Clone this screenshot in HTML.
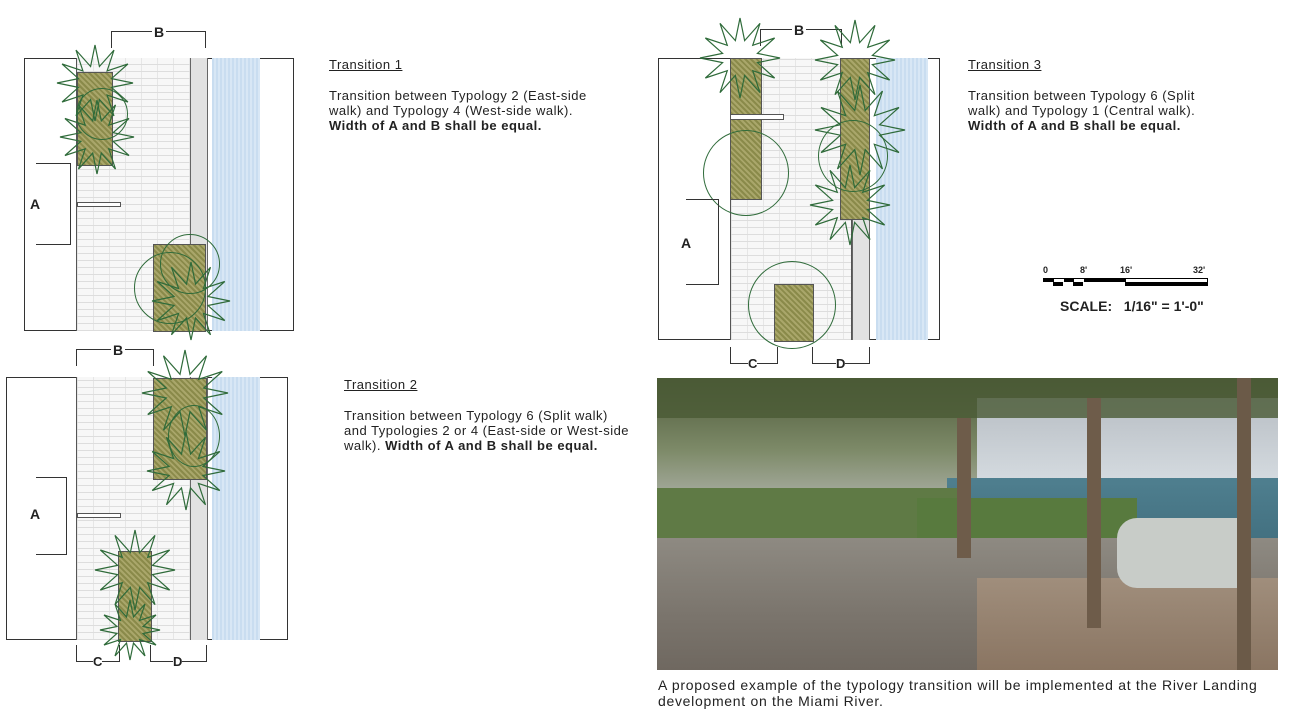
<!DOCTYPE html>
<html><head><meta charset="utf-8"><style>
body{margin:0;width:1289px;height:716px;background:#fff;position:relative;overflow:hidden;font-family:"Liberation Sans",sans-serif;color:#222}
.a{position:absolute}
.box{position:absolute;border:1px solid #333;box-sizing:border-box}
.brick{position:absolute;background-color:#f7f7f7;background-image:repeating-linear-gradient(0deg,#ddd 0 1px,transparent 1px 7px),repeating-linear-gradient(90deg,#e6e6e6 0 1px,transparent 1px 16px);border-left:1px solid #555;border-right:1px solid #555}
.strip{position:absolute;background:#e2e2e2;border-left:1px solid #666;border-right:1px solid #666}
.water{position:absolute;background:repeating-linear-gradient(90deg,#c9ddf0 0 2px,#d8e7f5 2px 4px)}
.tree{position:absolute;background:repeating-linear-gradient(45deg,#8a8a4a 0 2px,#a9a66a 2px 4px);border:1px solid #555}
.circ{position:absolute;border:1.5px solid #2f6b3a;border-radius:50%}
.t{position:absolute;font-size:13px;line-height:15px;letter-spacing:0.5px}
.u{text-decoration:underline}
.lab{position:absolute;font-weight:bold;font-size:14px}
.dim{position:absolute;border-color:#333;border-style:solid;border-width:0}
</style></head><body>

<!-- Transition 1 -->
<div class="box" style="left:24px;top:58px;width:270px;height:273px"></div>
<div class="brick" style="left:76px;top:58px;width:114px;height:273px"></div>
<div class="strip" style="left:190px;top:58px;width:16px;height:273px"></div>
<div class="water" style="left:212px;top:58px;width:48px;height:273px"></div>
<div class="tree" style="left:77px;top:72px;width:34px;height:92px"></div>
<div class="circ" style="left:76px;top:88px;width:50px;height:50px"></div>
<div class="tree" style="left:153px;top:244px;width:51px;height:86px"></div>
<div class="circ" style="left:134px;top:252px;width:70px;height:70px"></div>
<div class="circ" style="left:160px;top:234px;width:58px;height:58px"></div>
<div class="dim" style="left:111px;top:31px;width:93px;height:16px;border-top-width:1px;border-left-width:1px;border-right-width:1px"></div>
<div class="lab" style="left:152px;top:24px;background:#fff;padding:0 2px">B</div>
<div class="dim" style="left:36px;top:163px;width:34px;height:80px;border-top-width:1px;border-bottom-width:1px;border-right-width:1px"></div>
<div class="lab" style="left:30px;top:196px;background:#fff">A</div>
<div class="a" style="left:77px;top:202px;width:42px;height:3px;border:1px solid #555;background:#fff"></div>
<div class="t u" style="left:329px;top:57px">Transition 1</div>
<div class="t" style="left:329px;top:88px">Transition between Typology 2 (East-side<br>walk) and Typology 4 (West-side walk).<br><b>Width of A and B shall be equal.</b></div>

<!-- Transition 3 -->
<div class="box" style="left:658px;top:58px;width:282px;height:282px"></div>
<div class="brick" style="left:730px;top:58px;width:120px;height:282px"></div>
<div class="strip" style="left:852px;top:58px;width:16px;height:282px"></div>
<div class="water" style="left:876px;top:58px;width:52px;height:282px"></div>
<div class="tree" style="left:730px;top:58px;width:30px;height:140px"></div>
<div class="tree" style="left:840px;top:58px;width:28px;height:160px"></div>
<div class="circ" style="left:703px;top:130px;width:84px;height:84px"></div>
<div class="circ" style="left:818px;top:120px;width:68px;height:70px"></div>
<div class="circ" style="left:748px;top:261px;width:86px;height:86px"></div>
<div class="tree" style="left:774px;top:284px;width:38px;height:56px"></div>
<div class="a" style="left:730px;top:114px;width:52px;height:4px;border:1px solid #555;background:#fff"></div>
<div class="dim" style="left:760px;top:29px;width:80px;height:16px;border-top-width:1px;border-left-width:1px;border-right-width:1px"></div>
<div class="lab" style="left:792px;top:22px;background:#fff;padding:0 2px">B</div>
<div class="dim" style="left:686px;top:199px;width:32px;height:84px;border-top-width:1px;border-bottom-width:1px;border-right-width:1px"></div>
<div class="lab" style="left:681px;top:235px;background:#fff">A</div>
<div class="dim" style="left:730px;top:347px;width:46px;height:16px;border-bottom-width:1px;border-left-width:1px;border-right-width:1px"></div>
<div class="dim" style="left:812px;top:347px;width:56px;height:16px;border-bottom-width:1px;border-left-width:1px;border-right-width:1px"></div>
<div class="lab" style="left:748px;top:356px;background:#fff;font-size:13px">C</div>
<div class="lab" style="left:836px;top:356px;background:#fff;font-size:13px">D</div>
<div class="t u" style="left:968px;top:57px">Transition 3</div>
<div class="t" style="left:968px;top:88px">Transition between Typology 6 (Split<br>walk) and Typology 1 (Central walk).<br><b>Width of A and B shall be equal.</b></div>

<!-- scale -->
<div class="a" style="left:1043px;top:265px;font-size:9px;font-weight:bold">0</div>
<div class="a" style="left:1080px;top:265px;font-size:9px;font-weight:bold">8'</div>
<div class="a" style="left:1120px;top:265px;font-size:9px;font-weight:bold">16'</div>
<div class="a" style="left:1193px;top:265px;font-size:9px;font-weight:bold">32'</div>
<div class="a" style="left:1043px;top:278px;width:165px;height:8px;border:1px solid #000;box-sizing:border-box;background:linear-gradient(90deg,#000 0 10px,#fff 10px 20px,#000 20px 30px,#fff 30px 40px,#000 40px 82px,#fff 82px 165px)"></div>
<div class="a" style="left:1043px;top:282px;width:165px;height:4px;background:linear-gradient(90deg,#fff 0 10px,#000 10px 20px,#fff 20px 30px,#000 30px 40px,#fff 40px 82px,#000 82px 165px)"></div>
<div class="a" style="left:1060px;top:298px;font-size:14px;font-weight:bold">SCALE:&nbsp;&nbsp;&nbsp;1/16" = 1'-0"</div>

<!-- Transition 2 -->
<div class="box" style="left:6px;top:377px;width:282px;height:263px"></div>
<div class="brick" style="left:76px;top:377px;width:114px;height:263px"></div>
<div class="strip" style="left:190px;top:377px;width:16px;height:263px"></div>
<div class="water" style="left:212px;top:377px;width:48px;height:263px"></div>
<div class="tree" style="left:153px;top:378px;width:52px;height:100px"></div>
<div class="circ" style="left:168px;top:405px;width:50px;height:60px"></div>
<div class="tree" style="left:118px;top:551px;width:32px;height:89px"></div>
<div class="a" style="left:77px;top:513px;width:42px;height:3px;border:1px solid #555;background:#fff"></div>
<div class="dim" style="left:76px;top:349px;width:76px;height:16px;border-top-width:1px;border-left-width:1px;border-right-width:1px"></div>
<div class="lab" style="left:111px;top:342px;background:#fff;padding:0 2px">B</div>
<div class="dim" style="left:36px;top:477px;width:30px;height:76px;border-top-width:1px;border-bottom-width:1px;border-right-width:1px"></div>
<div class="lab" style="left:30px;top:506px;background:#fff">A</div>
<div class="dim" style="left:76px;top:645px;width:42px;height:16px;border-bottom-width:1px;border-left-width:1px;border-right-width:1px"></div>
<div class="dim" style="left:150px;top:645px;width:55px;height:16px;border-bottom-width:1px;border-left-width:1px;border-right-width:1px"></div>
<div class="lab" style="left:93px;top:654px;background:#fff;font-size:13px">C</div>
<div class="lab" style="left:173px;top:654px;background:#fff;font-size:13px">D</div>
<div class="t u" style="left:344px;top:377px">Transition 2</div>
<div class="t" style="left:344px;top:408px">Transition between Typology 6 (Split walk)<br>and Typologies 2 or 4 (East-side or West-side<br>walk). <b>Width of A and B shall be equal.</b></div>

<!-- palms -->
<svg class="a" style="left:0;top:0" width="1289" height="716">
<defs><symbol id="p" viewBox="-1 -1 2 2" overflow="visible"><polygon vector-effect="non-scaling-stroke" fill="none" stroke="#2f6b3a" stroke-width="1.2" points="1,0 .435,.116 .866,.5 .318,.318 .5,.866 .116,.435 0,1 -.116,.435 -.5,.866 -.318,.318 -.866,.5 -.435,.116 -1,0 -.435,-.116 -.866,-.5 -.318,-.318 -.5,-.866 -.116,-.435 0,-1 .116,-.435 .5,-.866 .318,-.318 .866,-.5 .435,-.116"/></symbol></defs>
<use href="#p" x="57" y="45" width="76" height="76"/>
<use href="#p" x="60" y="100" width="74" height="74"/>
<use href="#p" x="152" y="262" width="78" height="78"/>
<use href="#p" x="700" y="18" width="80" height="80"/>
<use href="#p" x="815" y="20" width="80" height="80"/>
<use href="#p" x="815" y="85" width="90" height="90"/>
<use href="#p" x="810" y="165" width="80" height="80"/>
<use href="#p" x="142" y="350" width="86" height="86"/>
<use href="#p" x="147" y="432" width="78" height="78"/>
<use href="#p" x="95" y="530" width="80" height="80"/>
<use href="#p" x="100" y="600" width="60" height="60"/>
</svg>

<!-- Photo -->
<div class="a" style="left:657px;top:378px;width:621px;height:292px;overflow:hidden;background:#8a8a80">
 <div class="a" style="left:0;top:0;width:621px;height:120px;background:linear-gradient(180deg,#4d5a3a,#7d8a68 60%,#a7aca0)"></div>
 <div class="a" style="left:320px;top:20px;width:301px;height:90px;background:linear-gradient(180deg,#b8bec4,#d7dde2)"></div>
 <div class="a" style="left:290px;top:100px;width:331px;height:90px;background:linear-gradient(180deg,#4f7f8f,#3d6a7a)"></div>
 <div class="a" style="left:0;top:110px;width:300px;height:60px;background:#5f7a45"></div>
 <div class="a" style="left:0;top:0;width:621px;height:40px;background:#4a5a34;opacity:.8"></div>
 <div class="a" style="left:260px;top:120px;width:220px;height:70px;background:#587a3e"></div>
 <div class="a" style="left:0;top:160px;width:621px;height:132px;background:linear-gradient(180deg,#8e8a82,#7a746c 60%,#6f6860)"></div>
 <div class="a" style="left:320px;top:200px;width:301px;height:92px;background:linear-gradient(180deg,#a08e7c,#8a7562)"></div>
 <div class="a" style="left:460px;top:140px;width:130px;height:70px;background:#c8ccc8;border-radius:20px 0 0 20px"></div>
 <div class="a" style="left:580px;top:0;width:14px;height:292px;background:#6b5a48"></div>
 <div class="a" style="left:430px;top:20px;width:14px;height:230px;background:#6e5c4a"></div>
 <div class="a" style="left:300px;top:40px;width:14px;height:140px;background:#6e5c4a"></div>
</div>
<div class="t" style="left:658px;top:677px;font-size:14px;line-height:16px;letter-spacing:0.7px">A proposed example of the typology transition will be implemented at the River Landing<br>development on the Miami River.</div>
</body></html>
